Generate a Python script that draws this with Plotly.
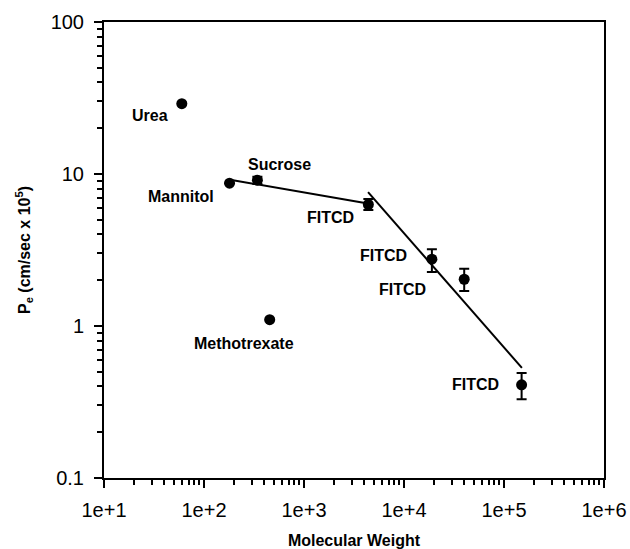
import plotly.graph_objects as go
import math

# Data
compounds = ["Urea", "Mannitol", "Sucrose", "Methotrexate", "FITCD", "FITCD", "FITCD", "FITCD"]
mol_weight = [60, 180, 342, 454, 4400, 19000, 40000, 150000]
pe = [29, 8.7, 9.1, 1.1, 6.3, 2.75, 2.03, 0.41]
err_plus = [0, 0, 0.5, 0, 0.55, 0.45, 0.35, 0.08]
err_minus = [0, 0, 0.5, 0, 0.5, 0.48, 0.33, 0.08]

fit1_x = [195, 4070]
fit1_y = [9.1, 6.45]
fit2_x = [4370, 151000]
fit2_y = [7.6, 0.53]

# label anchor positions (data units)
label_x = [29, 59, 575, 251, 1860, 6170, 9770, 51300]
label_y = [24.4, 7.06, 11.5, 0.773, 5.14, 2.89, 1.75, 0.41]

fig = go.Figure()
fig.add_trace(go.Scatter(x=fit1_x, y=fit1_y, mode="lines",
                         line=dict(color="black", width=2), showlegend=False))
fig.add_trace(go.Scatter(x=fit2_x, y=fit2_y, mode="lines",
                         line=dict(color="black", width=2), showlegend=False))
fig.add_trace(go.Scatter(
    x=mol_weight, y=pe, mode="markers",
    marker=dict(color="black", size=11),
    error_y=dict(type="data", symmetric=False, array=err_plus, arrayminus=err_minus,
                 color="black", thickness=2, width=5),
    showlegend=False))

bold = dict(family="Liberation Sans, Arial", size=16, color="black", weight="bold")
for xv, yv, t in zip(label_x, label_y, compounds):
    fig.add_annotation(x=math.log10(xv), y=math.log10(yv), text=t, showarrow=False, font=bold)

tickfont = dict(family="Liberation Sans, Arial", size=20, color="black")
fig.update_xaxes(type="log", range=[1, 6], dtick=1, tickformat=".0e", automargin=False,
                 showline=True, linecolor="black", linewidth=2, mirror=True,
                 ticks="outside", ticklen=8, tickwidth=2, tickcolor="black",
                 minor=dict(ticks="outside", ticklen=5, tickwidth=1.5, tickcolor="black", showgrid=False),
                 showgrid=False, zeroline=False, ticklabelstandoff=5,
                 tickfont=tickfont,
                 title=dict(text="Molecular Weight", standoff=16, font=bold))
fig.update_yaxes(type="log", range=[-1, 2], dtick=1, automargin=False,
                 showline=True, linecolor="black", linewidth=2, mirror=True,
                 ticks="outside", ticklen=8, tickwidth=2, tickcolor="black",
                 minor=dict(ticks="outside", ticklen=5, tickwidth=1.5, tickcolor="black", showgrid=False),
                 showgrid=False, zeroline=False, ticklabelstandoff=6,
                 tickfont=tickfont,
                 title=dict(text="P<sub>e</sub> (cm/sec x 10<sup>5</sup>)", standoff=16, font=bold))

fig.update_layout(width=630, height=549, margin=dict(l=104, r=26, t=22, b=71),
                  plot_bgcolor="white", paper_bgcolor="white")
fig.write_html("out.html")
